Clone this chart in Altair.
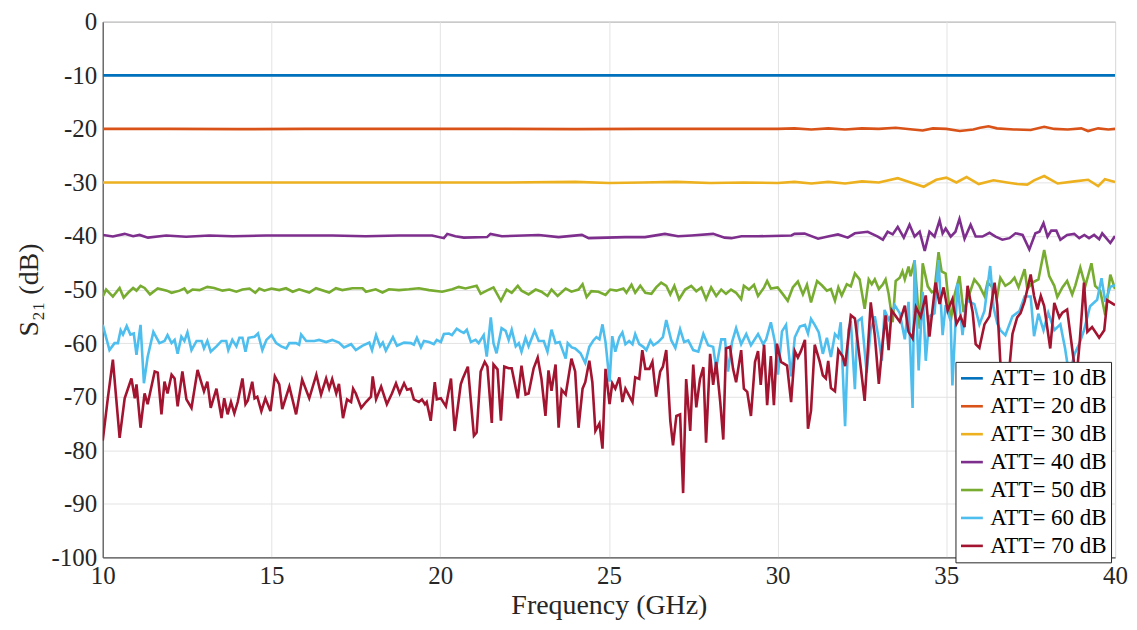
import altair as alt
import pandas as pd

# ---------------- data ----------------
series_names = ["ATT= 10 dB", "ATT= 20 dB", "ATT= 30 dB", "ATT= 40 dB",
                "ATT= 50 dB", "ATT= 60 dB", "ATT= 70 dB"]
colors = ["#0072BD", "#D95319", "#EDB120", "#7E2F8E", "#77AC30", "#4DBEEE", "#A2142F"]

att10_f = [10, 15, 20, 25, 30, 35, 40]
att10_v = [-10.0, -10.0, -10.0, -10.0, -10.0, -10.0, -10.0]

att20_f = [10, 12, 14, 16, 18, 20, 22, 24, 26, 28, 30, 30.5, 31, 31.5, 32, 32.5, 33, 33.5,
           34, 34.3, 34.6, 35, 35.4, 35.8, 36.0, 36.25, 36.5, 37, 37.5, 37.9, 38.2, 38.6, 39,
           39.2, 39.5, 39.8, 40]
att20_v = [-20.0, -20.0, -20.05, -20.0, -20.0, -20.0, -20.0, -20.05, -20.0, -20.0, -20.0,
           -19.9, -20.1, -19.9, -20.1, -19.9, -20.0, -19.8, -20.1, -20.3, -19.9, -20.0, -20.4,
           -20.1, -19.8, -19.5, -19.9, -20.1, -20.2, -19.6, -20.0, -20.1, -19.9, -20.4, -19.9,
           -20.1, -20.0]

att30_f = [10, 12, 14, 16, 18, 20, 22, 24, 25, 26, 27, 28, 29, 30, 30.5, 31, 31.5, 32, 32.5,
           33, 33.56, 33.9, 34.33, 34.7, 35.0, 35.3, 35.6, 35.96, 36.4, 36.8, 37.1, 37.4, 37.6,
           37.9, 38.3, 38.8, 39.2, 39.5, 39.7, 40]
att30_v = [-30.0, -30.0, -30.0, -30.0, -30.0, -30.0, -30.0, -29.9, -30.1, -30.0, -29.9, -30.1,
           -30.0, -30.1, -29.9, -30.2, -29.9, -30.2, -29.8, -30.0, -29.2, -29.9, -30.8, -29.5,
           -29.1, -30.0, -29.0, -30.3, -29.6, -30.0, -30.3, -30.4, -29.6, -28.8, -30.2, -29.8,
           -29.5, -30.7, -29.4, -29.9]

att40_f = [10.01, 10.3, 10.65, 10.9, 11.09, 11.34, 11.88, 12.47, 13.16, 13.85, 14.84, 15.82,
           16.81, 17.79, 18.78, 19.76, 20.11, 20.21, 20.45, 20.7, 21.39, 21.49, 21.83, 22.92,
           23.51, 24.2, 24.4, 25.48, 26.07, 26.66, 27.05, 27.45, 28.09, 28.43, 28.63, 28.93,
           29.42, 30.41, 30.5, 30.8, 31.2, 31.49, 31.79, 32.08, 32.29, 32.67, 32.97, 33.12,
           33.26, 33.41, 33.56, 33.74, 33.91, 34.06, 34.21, 34.36, 34.5, 34.65, 34.8, 34.89,
           34.98, 35.13, 35.27, 35.39, 35.54, 35.72, 35.87, 36.07, 36.28, 36.46, 36.66, 36.87,
           37.05, 37.26, 37.46, 37.64, 37.76, 37.88, 38.0, 38.11, 38.26, 38.38, 38.58, 38.79,
           38.94, 39.09, 39.23, 39.38, 39.53, 39.62, 39.74, 39.86, 40.0]
att40_v = [-39.8, -40.1, -39.6, -40.05, -39.8, -40.3, -39.9, -40.15, -39.9, -40.05, -39.9,
           -39.9, -39.9, -40.05, -39.9, -39.9, -40.4, -39.6, -40.05, -40.3, -40.2, -39.6,
           -40.05, -39.8, -40.2, -39.8, -40.4, -40.2, -40.2, -39.6, -40.05, -39.9, -39.6, -40.3,
           -40.4, -40.05, -40.05, -39.9, -39.6, -39.55, -40.5, -40.1, -39.7, -40.3, -39.5, -39.2,
           -40.1, -40.7, -39.2, -39.7, -38.3, -40.3, -37.9, -40.1, -39.2, -42.8, -39.2, -40.1,
           -37.1, -39.5, -38.6, -40.1, -39.2, -36.8, -40.5, -37.9, -40.1, -40.1, -39.4, -40.1,
           -40.7, -40.4, -39.5, -39.8, -42.5, -39.5, -39.2, -37.6, -40.1, -39.0, -39.0, -40.7,
           -39.8, -39.6, -40.4, -39.8, -40.4, -39.8, -40.6, -39.5, -40.4, -41.3, -40.0]

att50_f = [10.0, 10.1, 10.3, 10.5, 10.62, 10.75, 10.9, 11.0, 11.12, 11.24, 11.4, 11.63, 11.9,
           12.04, 12.28, 12.42, 12.51, 12.66, 12.87, 13.1, 13.3, 13.55, 13.75, 13.96, 14.14,
           14.35, 14.52, 14.64, 14.79, 15.0, 15.23, 15.43, 15.63, 15.82, 16.12, 16.32, 16.71,
           16.91, 17.1, 17.4, 17.7, 17.8, 18.09, 18.29, 18.48, 18.78, 19.07, 19.37, 19.67,
           20.06, 20.36, 20.55, 20.75, 21.08, 21.2, 21.38, 21.58, 21.67, 21.8, 21.97, 22.12,
           22.3, 22.41, 22.62, 22.83, 23.0, 23.18, 23.3, 23.48, 23.72, 23.89, 24.1, 24.22,
           24.34, 24.48, 24.69, 24.9, 25.04, 25.22, 25.43, 25.52, 25.67, 25.78, 25.93, 26.08,
           26.26, 26.4, 26.55, 26.7, 26.82, 26.94, 27.08, 27.26, 27.44, 27.59, 27.74, 27.88,
           28.03, 28.18, 28.33, 28.47, 28.62, 28.77, 28.92, 29.0, 29.15, 29.3, 29.42, 29.6,
           29.69, 29.8, 30.0, 30.16, 30.3, 30.45, 30.6, 30.75, 30.87, 30.99, 31.17, 31.31,
           31.46, 31.58, 31.7, 31.8, 31.9, 32.05, 32.17, 32.29, 32.43, 32.58, 32.7, 32.79,
           32.88, 33.0, 33.12, 33.2, 33.29, 33.41, 33.5, 33.62, 33.7, 33.77, 33.88, 33.94,
           34.06, 34.21, 34.3, 34.45, 34.57, 34.65, 34.77, 34.86, 34.98, 35.13, 35.24, 35.39,
           35.51, 35.63, 35.83, 35.98, 36.13, 36.22, 36.37, 36.51, 36.6, 36.75, 36.9, 37.02,
           37.14, 37.32, 37.4, 37.55, 37.73, 37.9, 38.05, 38.2, 38.29, 38.44, 38.58, 38.73,
           38.82, 38.97, 39.12, 39.3, 39.41, 39.56, 39.71, 39.86, 40.0]
att50_v = [-51.3, -50.0, -51.3, -49.7, -51.5, -50.6, -49.7, -50.2, -49.3, -49.7, -50.9, -49.8,
           -50.2, -50.6, -50.2, -49.8, -50.6, -50.0, -50.1, -49.5, -49.7, -50.2, -50.0, -50.4,
           -50.0, -49.8, -50.6, -49.8, -50.2, -49.8, -50.1, -49.75, -50.4, -49.95, -50.55,
           -49.75, -50.55, -49.75, -50.1, -49.75, -49.75, -50.4, -49.95, -50.55, -49.95, -50.1,
           -49.95, -49.75, -50.1, -50.4, -49.95, -49.5, -49.8, -49.3, -50.8, -50.2, -49.6,
           -50.6, -52.1, -50.0, -50.6, -49.3, -50.2, -50.9, -50.0, -50.4, -51.2, -50.0, -51.2,
           -49.8, -50.4, -50.0, -49.0, -51.4, -50.3, -50.4, -51.0, -50.0, -50.2, -49.8, -50.6,
           -49.1, -50.6, -49.3, -50.6, -50.8, -49.6, -48.7, -49.3, -50.9, -49.3, -51.8, -50.0,
           -49.3, -50.3, -49.6, -51.8, -49.6, -51.2, -50.0, -50.8, -50.0, -50.6, -51.8, -49.3,
           -50.0, -49.1, -51.2, -49.6, -48.4, -49.8, -49.6, -50.9, -52.1, -49.6, -48.5, -50.9,
           -49.1, -52.4, -48.4, -49.2, -50.2, -49.9, -52.1, -49.6, -51.1, -49.0, -49.4, -47.0,
           -48.1, -53.6, -48.1, -49.0, -48.1, -49.9, -49.0, -48.1, -50.8, -56.1, -48.4, -47.8,
           -46.6, -48.1, -45.7, -47.5, -44.6, -57.3, -45.1, -49.4, -50.5, -50.2, -43.0, -46.6,
           -47.0, -55.9, -51.1, -47.5, -54.2, -51.8, -48.1, -49.3, -51.2, -48.7, -49.6, -51.2,
           -47.8, -49.3, -48.7, -47.8, -49.6, -46.2, -49.9, -48.7, -48.1, -42.6, -47.5, -49.3,
           -51.4, -49.6, -48.4, -50.9, -49.3, -45.9, -49.3, -45.1, -49.3, -50.2, -54.8, -47.2,
           -49.9]

att60_f = [10.0, 10.2, 10.35, 10.45, 10.53, 10.6, 10.71, 10.82, 10.92, 11.0, 11.12, 11.22,
           11.33, 11.5, 11.68, 11.83, 11.92, 12.04, 12.13, 12.22, 12.33, 12.42, 12.51, 12.63,
           12.78, 12.93, 13.0, 13.1, 13.2, 13.37, 13.52, 13.66, 13.72, 13.84, 13.96, 14.05,
           14.14, 14.23, 14.32, 14.5, 14.6, 14.73, 14.85, 15.0, 15.14, 15.29, 15.44, 15.53,
           15.73, 15.82, 15.88, 16.03, 16.27, 16.41, 16.62, 16.8, 17.0, 17.15, 17.36, 17.5,
           17.69, 17.9, 17.98, 18.1, 18.22, 18.3, 18.39, 18.6, 18.72, 18.93, 19.13, 19.22,
           19.31, 19.43, 19.52, 19.67, 19.81, 19.9, 20.02, 20.11, 20.26, 20.35, 20.49, 20.61,
           20.7, 20.79, 20.91, 21.05, 21.14, 21.29, 21.38, 21.5, 21.58, 21.67, 21.82, 21.94,
           22.03, 22.12, 22.24, 22.33, 22.41, 22.53, 22.62, 22.8, 22.92, 23.07, 23.18, 23.3,
           23.42, 23.54, 23.72, 23.78, 23.9, 24.0, 24.16, 24.3, 24.42, 24.54, 24.63, 24.72,
           24.81, 24.9, 25.02, 25.1, 25.19, 25.31, 25.4, 25.49, 25.6, 25.7, 25.78, 25.9, 26.02,
           26.11, 26.23, 26.32, 26.46, 26.6, 26.7, 26.85, 26.97, 27.11, 27.23, 27.35, 27.5,
           27.65, 27.8, 27.94, 28.09, 28.18, 28.33, 28.44, 28.53, 28.65, 28.77, 28.92, 29.07,
           29.21, 29.42, 29.57, 29.66, 29.8, 29.92, 30.01, 30.13, 30.25, 30.4, 30.51, 30.66,
           30.81, 30.9, 30.99, 31.1, 31.22, 31.34, 31.46, 31.58, 31.7, 31.8, 31.87, 32.0, 32.1,
           32.17, 32.29, 32.37, 32.49, 32.64, 32.76, 32.88, 33.0, 33.09, 33.17, 33.29, 33.35,
           33.47, 33.62, 33.77, 33.88, 34.0, 34.06, 34.18, 34.3, 34.39, 34.5, 34.65, 34.77,
           34.89, 34.98, 35.13, 35.18, 35.33, 35.48, 35.6, 35.83, 35.98, 36.13, 36.3, 36.4,
           36.51, 36.6, 36.75, 36.96, 37.17, 37.32, 37.5, 37.6, 37.73, 37.88, 38.02, 38.2,
           38.38, 38.52, 38.64, 38.8, 38.95, 39.08, 39.26, 39.47, 39.6, 39.71, 39.86, 40.0]
att60_v = [-56.6, -61.3, -60.0, -60.0, -57.6, -58.4, -56.8, -58.4, -58.2, -62.2, -56.6, -67.5,
           -62.6, -57.9, -60.0, -59.6, -58.5, -60.0, -59.4, -62.0, -58.8, -59.6, -58.0, -61.3,
           -59.6, -59.6, -61.0, -59.6, -61.6, -60.6, -59.6, -59.6, -61.3, -59.4, -60.6, -59.0,
           -59.0, -61.6, -59.0, -58.8, -58.2, -61.3, -59.4, -58.5, -60.0, -60.6, -61.0, -60.0,
           -60.0, -60.3, -58.4, -59.6, -59.6, -59.4, -59.8, -59.4, -59.9, -60.8, -60.2, -61.3,
           -60.5, -59.9, -61.3, -58.5, -60.6, -59.9, -61.4, -58.9, -60.5, -59.9, -60.0, -60.3,
           -59.0, -60.8, -59.6, -59.8, -60.2, -59.4, -59.8, -58.3, -58.2, -58.5, -57.3, -57.8,
           -58.1, -57.5, -59.8, -59.4, -60.0, -58.5, -62.5, -55.2, -60.0, -61.9, -57.2, -57.7,
           -59.4, -57.5, -60.6, -60.0, -61.6, -59.0, -60.6, -57.7, -59.6, -59.6, -61.6, -57.5,
           -60.0, -59.8, -62.9, -60.0, -60.8, -61.0, -61.9, -63.7, -60.7, -59.5, -58.9, -59.3,
           -56.5, -59.8, -67.2, -58.7, -61.6, -58.9, -58.0, -60.2, -59.6, -60.2, -58.3, -60.2,
           -60.7, -61.3, -59.5, -60.4, -59.8, -58.9, -55.7, -59.5, -60.9, -57.4, -59.8, -59.5,
           -61.3, -61.6, -58.3, -60.4, -60.7, -64.7, -59.3, -59.3, -65.3, -59.8, -57.2, -60.2,
           -58.3, -60.4, -58.3, -60.2, -59.3, -56.1, -59.8, -65.9, -57.8, -56.6, -66.2, -58.9,
           -56.9, -56.6, -58.2, -55.5, -56.6, -58.0, -62.0, -59.0, -62.6, -58.3, -59.0, -56.1,
           -75.5, -57.5, -55.9, -68.6, -55.9, -55.3, -65.5, -57.4, -55.0, -59.3, -63.3, -53.8,
           -55.6, -55.0, -52.9, -54.4, -59.3, -52.3, -72.1, -44.5, -65.1, -50.4, -63.3, -55.0,
           -54.4, -44.5, -58.5, -52.9, -55.9, -67.9, -48.9, -58.5, -52.0, -52.7, -56.5, -54.0,
           -45.6, -53.3, -56.3, -57.6, -58.5, -55.0, -54.0, -51.3, -51.3, -58.7, -54.5, -57.6,
           -54.3, -57.6, -56.5, -61.0, -66.0, -62.0, -60.0, -57.6, -53.1, -51.9, -47.9, -52.3,
           -49.5, -49.2]

att70_f = [10.0, 10.15, 10.3, 10.5, 10.65, 10.85, 10.95, 11.0, 11.12, 11.24, 11.33, 11.54,
           11.63, 11.74, 11.83, 11.92, 12.04, 12.13, 12.22, 12.36, 12.48, 12.63, 12.81, 13.0,
           13.1, 13.2, 13.37, 13.52, 13.6, 13.7, 13.8, 13.9, 14.0, 14.14, 14.23, 14.3, 14.43,
           14.5, 14.58, 14.7, 14.82, 14.97, 15.1, 15.23, 15.32, 15.53, 15.73, 15.91, 16.12,
           16.33, 16.47, 16.62, 16.71, 16.8, 16.92, 17.0, 17.12, 17.24, 17.36, 17.42, 17.5,
           17.66, 17.8, 17.95, 18.0, 18.1, 18.25, 18.42, 18.57, 18.69, 18.8, 18.93, 19.02,
           19.13, 19.22, 19.37, 19.46, 19.55, 19.6, 19.72, 19.84, 19.9, 20.02, 20.17, 20.32,
           20.43, 20.61, 20.67, 20.82, 21.0, 21.08, 21.2, 21.32, 21.4, 21.53, 21.58, 21.7,
           21.8, 21.9, 22.03, 22.12, 22.3, 22.41, 22.53, 22.62, 22.77, 22.89, 23.0, 23.12,
           23.21, 23.3, 23.42, 23.51, 23.6, 23.72, 23.89, 24.0, 24.1, 24.22, 24.3, 24.42, 24.51,
           24.6, 24.72, 24.81, 24.9, 25.02, 25.1, 25.19, 25.31, 25.4, 25.49, 25.7, 25.78, 25.9,
           25.99, 26.08, 26.2, 26.29, 26.4, 26.52, 26.6, 26.7, 26.82, 26.9, 27.0, 27.11, 27.2,
           27.29, 27.41, 27.5, 27.59, 27.7, 27.8, 27.88, 28.0, 28.09, 28.18, 28.3, 28.39,
           28.47, 28.59, 28.68, 28.77, 28.92, 29.0, 29.1, 29.21, 29.33, 29.42, 29.5, 29.6,
           29.69, 29.8, 29.89, 29.98, 30.1, 30.28, 30.4, 30.51, 30.6, 30.69, 30.81, 30.9,
           30.99, 31.1, 31.25, 31.34, 31.43, 31.5, 31.58, 31.7, 31.8, 31.93, 32.0, 32.17,
           32.29, 32.43, 32.58, 32.76, 32.88, 33.0, 33.12, 33.2, 33.29, 33.38, 33.62, 33.77,
           33.88, 34.0, 34.1, 34.24, 34.39, 34.5, 34.68, 34.8, 34.92, 35.04, 35.18, 35.3,
           35.42, 35.54, 35.63, 35.78, 35.87, 35.98, 36.13, 36.28, 36.43, 36.51, 36.6, 36.75,
           36.85, 36.96, 37.1, 37.2, 37.32, 37.5, 37.6, 37.7, 37.8, 37.9, 38.08, 38.2, 38.35,
           38.44, 38.58, 38.73, 38.85, 38.95, 39.08, 39.18, 39.32, 39.53, 39.68, 39.77, 40.0]
att70_v = [-78.2, -70.3, -63.1, -77.7, -70.3, -66.6, -70.3, -67.7, -75.8, -69.4, -71.4, -65.3,
           -65.5, -73.3, -67.2, -69.4, -65.9, -66.6, -71.8, -65.3, -70.5, -72.1, -65.0, -69.0,
           -67.2, -72.1, -68.5, -74.0, -70.3, -73.3, -71.0, -73.1, -71.0, -66.6, -71.4, -70.7,
           -67.2, -70.3, -70.0, -72.7, -70.3, -72.7, -66.2, -67.7, -72.3, -68.1, -73.3, -66.8,
           -70.3, -65.9, -69.6, -66.6, -68.5, -66.7, -69.4, -67.6, -74.0, -70.5, -71.0, -68.5,
           -69.4, -72.1, -71.0, -70.0, -66.2, -70.5, -68.1, -71.4, -69.4, -67.5, -69.4, -67.5,
           -68.7, -68.5, -70.5, -71.0, -70.5, -71.4, -71.0, -74.5, -67.3, -70.5, -70.3, -71.8,
           -66.6, -76.4, -67.7, -66.6, -64.4, -77.3, -76.7, -65.3, -63.5, -64.4, -74.9, -64.0,
           -64.9, -74.5, -64.4, -64.7, -64.7, -70.3, -64.2, -69.6, -69.4, -64.7, -62.7, -66.6,
           -73.6, -65.1, -68.9, -64.0, -75.8, -68.7, -69.6, -62.9, -65.3, -75.8, -68.5, -67.3,
           -63.3, -67.3, -76.4, -75.0, -79.7, -64.8, -71.4, -67.5, -68.5, -66.4, -71.0, -68.5,
           -71.0, -66.4, -66.7, -61.3, -64.8, -64.8, -63.5, -70.0, -65.3, -64.4, -61.3, -74.5,
           -79.1, -73.6, -73.3, -88.0, -66.7, -76.4, -64.0, -72.0, -66.7, -64.5, -78.6, -62.0,
           -67.8, -63.5, -71.0, -78.0, -61.0, -60.7, -64.8, -67.3, -61.3, -68.5, -69.1, -73.6,
           -63.5, -61.5, -67.8, -60.3, -71.6, -62.4, -71.6, -60.1, -63.5, -64.2, -71.0, -61.5,
           -62.7, -61.5, -59.4, -76.0, -72.6, -60.3, -63.5, -66.0, -66.6, -63.3, -68.4, -69.0,
           -61.3, -62.5, -64.3, -54.8, -55.4, -62.7, -70.8, -52.4, -58.5, -67.6, -59.5, -54.8,
           -61.3, -53.9, -56.0, -53.0, -57.9, -59.1, -53.3, -55.1, -51.1, -58.8, -48.7, -52.7,
           -49.6, -53.9, -51.8, -56.4, -55.0, -57.0, -49.3, -54.2, -60.2, -60.9, -56.5, -55.0,
           -48.7, -52.9, -63.5, -70.0, -66.0, -58.3, -55.2, -54.4, -52.2, -47.2, -51.2, -53.7,
           -51.2, -53.1, -61.0, -52.5, -55.2, -54.3, -53.7, -61.0, -67.0, -60.0, -48.7, -57.9,
           -57.0, -59.0, -57.6, -52.0, -52.9]

x_ticks = [10, 15, 20, 25, 30, 35, 40]
y_ticks = [0, -10, -20, -30, -40, -50, -60, -70, -80, -90, -100]

# ---------------- build table ----------------
all_f = [att10_f, att20_f, att30_f, att40_f, att50_f, att60_f, att70_f]
all_v = [att10_v, att20_v, att30_v, att40_v, att50_v, att60_v, att70_v]
rows = []
for k, (name, fs, vs) in enumerate(zip(series_names, all_f, all_v)):
    for i, (f, v) in enumerate(zip(fs, vs)):
        rows.append({"series": name, "order": k, "idx": i, "f": f, "v": v})
df = pd.DataFrame(rows)

FONT = "Liberation Serif"
TXT = "#262626"

lines = alt.Chart(df).mark_line(strokeWidth=2.6, clip=True).encode(
    x=alt.X("f:Q",
            scale=alt.Scale(domain=[10, 40], nice=False, zero=False),
            axis=alt.Axis(values=x_ticks, title="Frequency (GHz)", format="d",
                          labelFlush=False,
                          grid=True, gridColor="#e3e3e3", gridWidth=1,
                          domainColor="#4d4d4d", domainWidth=1,
                          ticks=False, labelPadding=6, titlePadding=3,
                          labelFontSize=25, titleFontSize=28,
                          labelFont=FONT, titleFont=FONT, labelColor=TXT,
                          titleColor=TXT, titleFontWeight="normal")),
    y=alt.Y("v:Q",
            scale=alt.Scale(domain=[-100, 0], nice=False, zero=False),
            axis=alt.Axis(values=y_ticks, title="S₂₁ (dB)",
                          labelExpr="datum.value == 0 ? '0' : '-' + abs(datum.value)",
                          labelFlush=False,
                          grid=True, gridColor="#e3e3e3", gridWidth=1,
                          domainColor="#4d4d4d", domainWidth=1,
                          ticks=False, labelPadding=6, titlePadding=8,
                          labelFontSize=25, titleFontSize=28,
                          labelFont=FONT, titleFont=FONT, labelColor=TXT,
                          titleColor=TXT, titleFontWeight="normal")),
    color=alt.Color("series:N",
                    scale=alt.Scale(domain=series_names, range=colors),
                    legend=alt.Legend(title=None, orient="none",
                                      legendX=855, legendY=341,
                                      symbolType="stroke", symbolSize=480,
                                      symbolStrokeWidth=2.6,
                                      labelFont=FONT, labelFontSize=23,
                                      labelColor="#000000", labelOffset=6,
                                      rowPadding=3, padding=4,
                                      fillColor="white", strokeColor="#262626",
                                      labelLimit=300)),
    order=alt.Order("idx:Q"),
    detail="series:N",
)

chart = lines.properties(
    width=1015, height=537,
    autosize=alt.AutoSizeParams(type="none"),
    padding={"left": 95, "top": 13, "right": 14, "bottom": 64},
).configure_view(stroke="#4d4d4d", strokeWidth=1)

chart.save("out.html", embed_options={"renderer": "svg", "actions": False})
